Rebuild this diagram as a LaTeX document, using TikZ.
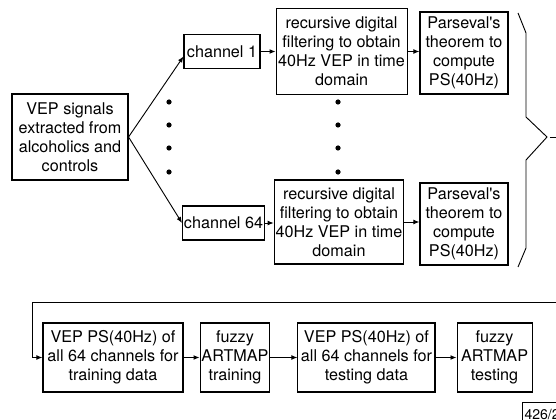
\documentclass[tikz,border=0pt]{standalone}
\usepackage{fontspec}
\setmainfont{TeX Gyre Heros}
\usetikzlibrary{arrows.meta, positioning, calc}

\begin{document}
\begin{tikzpicture}[
  x=0.025cm, y=-0.025cm,
  block/.style={
    draw,
    line width=0.75pt,
    inner sep=1pt,
    align=center,
    font=\fontsize{11.5}{13.5}\selectfont
  },
  arrow/.style={-{Latex[length=1.5mm, width=1.2mm]}, line width=0.65pt}
]
\clip (0,0) rectangle (556,419);

% input and the two channel branches
\node[block, minimum width=2.9cm, minimum height=2.15cm] (vep) at (70,137)
  {VEP signals\\extracted from\\alcoholics and\\controls};
\node[block, minimum width=1.9cm, minimum height=0.85cm] (ch1) at (222,51.5) {channel 1};
\node[block, minimum width=2.025cm, minimum height=0.85cm] (ch64) at (223.5,223) {channel 64};

\node[block, minimum width=3.275cm, minimum height=2.15cm, right=0.375cm of ch1] (filt1)
  {recursive digital\\filtering to obtain\\40Hz VEP in time\\domain};
\node[block, minimum width=3.2cm, minimum height=2.1cm] (filt64) at (339,222)
  {recursive digital\\filtering to obtain\\40Hz VEP in time\\domain};
\node[block, minimum width=2.2cm, minimum height=2.05cm] (pars1) at (464,53)
  {Parseval\textquotesingle s\\theorem to\\compute\\PS(40Hz)};
\node[block, minimum width=2.2cm, minimum height=2.05cm] (pars64) at (464,224)
  {Parseval\textquotesingle s\\theorem to\\compute\\PS(40Hz)};

% classifier row
\node[block, minimum width=3.5cm, minimum height=1.725cm] (train) at (113,357.5)
  {VEP PS(40Hz) of\\all 64 channels for\\training data};
\node[block, minimum width=1.65cm, minimum height=1.725cm, right=0.4cm of train] (fztrain)
  {fuzzy\\ARTMAP\\training};
\node[block, minimum width=3.425cm, minimum height=1.725cm, right=0.675cm of fztrain] (test)
  {VEP PS(40Hz) of\\all 64 channels for\\testing data};
\node[block, minimum width=1.875cm, minimum height=1.725cm, right=0.525cm of test] (fztest)
  {fuzzy\\ARTMAP\\testing};

\node[draw, line width=0.6pt, anchor=north west, inner sep=1.5pt, text width=1.2cm,
  align=left, minimum height=0.6cm, font=\fontsize{10}{11}\selectfont] (figid)
  at (522,402) {426/2};

% omitted channels
\foreach \y in {102,125,148,172} {
  \fill (169,\y) circle[radius=0.065cm];
  \fill (338,\y) circle[radius=0.065cm];
}

% brace collecting the channel spectra
\coordinate (tip) at (547,137);
\draw[line width=0.65pt] (518,13) -- (526,33) -- (526,117) -- (tip)
  -- (526,160) -- (526,248) -- (518,267);

\draw[arrow] (vep.east) -- ($(ch1.west)+(0,5)$);
\draw[arrow] (vep.east) -- (ch64.west);
\draw[arrow] (ch1) -- (filt1);
\draw[arrow] (ch64) -- (ch64 -| filt64.west);
\draw[arrow] (filt1.east) -- (filt1.east -| pars1.west);
\draw[arrow] (filt64.east) -- (filt64.east -| pars64.west);
\draw[arrow] ([xshift=0.07cm]tip) -- ++(25,0) |- (32,302) |- (train.west);
\draw[arrow] (train) -- (fztrain);
\draw[arrow] (fztrain) -- (test);
\draw[arrow] (test) -- (fztest);
\end{tikzpicture}
\end{document}
